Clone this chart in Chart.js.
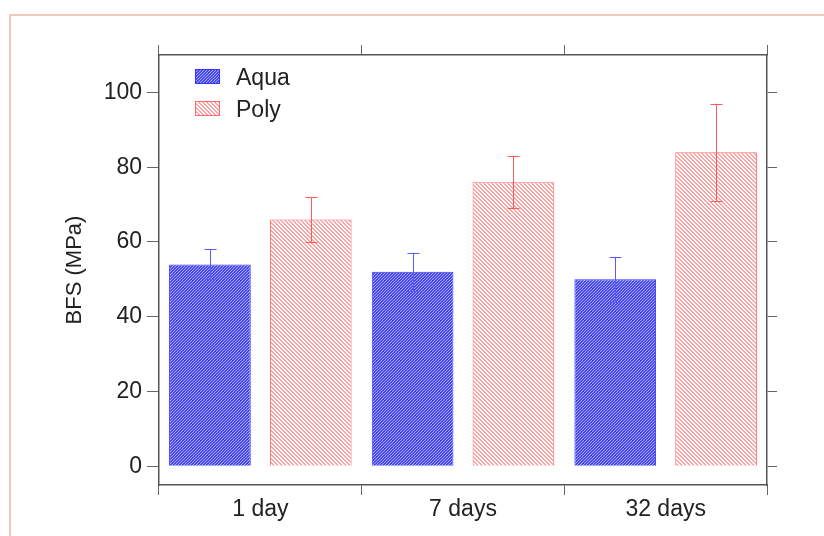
<!DOCTYPE html>
<html>
<head>
<meta charset="utf-8">
<script src="https://cdn.jsdelivr.net/npm/chart.js@4"></script>
<style>
  html, body { margin: 0; padding: 0; background: #fff; }
  #wrap { width: 824px; height: 536px; position: relative; }
</style>
</head>
<body>
<div id="wrap"><canvas id="c" width="824" height="536"></canvas></div>
<script>
// ---- data ----
const categories = ['1 day', '7 days', '32 days'];
const seriesNames = ['Aqua', 'Poly'];
const aquaValues = [54, 52, 50];
const aquaErrLow = [50, 47, 44];
const aquaErrHigh = [58, 57, 56];
const polyValues = [66, 76, 84];
const polyErrLow = [60, 69, 71];
const polyErrHigh = [72, 83, 97];
const yTickValues = [0, 20, 40, 60, 80, 100];
const yTitle = 'BFS (MPa)';

// ---- hatch patterns ----
function makePattern(size, bg, fg, test) {
  const c = document.createElement('canvas');
  c.width = size; c.height = size;
  const g = c.getContext('2d');
  g.fillStyle = bg; g.fillRect(0, 0, size, size);
  g.fillStyle = fg;
  for (let x = 0; x < size; x++) for (let y = 0; y < size; y++) {
    if (test(x, y)) g.fillRect(x, y, 1, 1);
  }
  return document.getElementById('c').getContext('2d').createPattern(c, 'repeat');
}
const aquaPattern = makePattern(3, '#4848f2', '#aaaaff', (x, y) => (x + y) % 3 === 0);
const polyPattern = makePattern(4, '#ffffff', '#ffa4a4', (x, y) => ((x - y + 8) % 4) < 2);

const errColors = ['#5a5aff', '#ff5a5a'];
const errLows = [aquaErrLow, polyErrLow];
const errHighs = [aquaErrHigh, polyErrHigh];
const patterns = [aquaPattern, polyPattern];
const borders = ['#3535ff', '#ff6a6a'];

const FONT = '"Liberation Sans", Arial, Helvetica, sans-serif';
const FS = 23;

const framePlugin = {
  id: 'frame',
  beforeDraw(chart) {
    const ctx = chart.ctx;
    ctx.save();
    ctx.strokeStyle = '#ecb6a6';
    ctx.lineWidth = 1.5;
    ctx.beginPath();
    ctx.moveTo(10, 536); ctx.lineTo(10, 15); ctx.lineTo(824, 15);
    ctx.stroke();
    ctx.restore();
  }
};

const errorBarPlugin = {
  id: 'errbars',
  afterDatasetsDraw(chart) {
    const ctx = chart.ctx;
    const ys = chart.scales.y;
    ctx.save();
    chart.data.datasets.forEach((ds, di) => {
      const meta = chart.getDatasetMeta(di);
      meta.data.forEach((bar, i) => {
        const x = Math.round(bar.x);
        const yl = ys.getPixelForValue(errLows[di][i]);
        const yh = ys.getPixelForValue(errHighs[di][i]);
        ctx.strokeStyle = errColors[di];
        ctx.lineWidth = 1;
        ctx.beginPath();
        ctx.moveTo(x + 0.5, yl); ctx.lineTo(x + 0.5, yh);
        ctx.moveTo(x - 5.5, Math.round(yh) + 0.5); ctx.lineTo(x + 6.5, Math.round(yh) + 0.5);
        ctx.moveTo(x - 5.5, Math.round(yl) + 0.5); ctx.lineTo(x + 6.5, Math.round(yl) + 0.5);
        ctx.stroke();
      });
    });
    ctx.restore();
  }
};

const legendPlugin = {
  id: 'customLegend',
  afterDraw(chart) {
    const ctx = chart.ctx;
    const a = chart.chartArea;
    ctx.save();
    seriesNames.forEach((name, i) => {
      const bx = a.left + 36, by = a.top + 14 + i * 32;
      ctx.fillStyle = patterns[i];
      ctx.fillRect(bx, by, 25, 15);
      ctx.strokeStyle = borders[i];
      ctx.lineWidth = 1;
      ctx.strokeRect(bx + 0.5, by + 0.5, 24, 14);
      ctx.fillStyle = '#222';
      ctx.font = FS + 'px ' + FONT;
      ctx.textBaseline = 'middle';
      ctx.textAlign = 'left';
      ctx.fillText(name, bx + 41, by + 10);
    });
    ctx.restore();
  }
};

const gridCommon = {
  display: true,
  drawOnChartArea: false,
  drawTicks: true,
  tickLength: 10,
  tickColor: '#666',
  color: '#666',
  lineWidth: 1
};
const borderCommon = { display: true, color: '#555', width: 1.5 };
const filterTicks = s => { s.ticks = yTickValues.map(v => ({ value: v })); };

new Chart(document.getElementById('c'), {
  type: 'bar',
  data: {
    labels: categories,
    datasets: [
      { label: seriesNames[0], data: aquaValues, backgroundColor: aquaPattern, borderColor: borders[0], borderWidth: 1 },
      { label: seriesNames[1], data: polyValues, backgroundColor: polyPattern, borderColor: borders[1], borderWidth: 1 }
    ]
  },
  options: {
    responsive: false,
    animation: false,
    devicePixelRatio: 1,
    layout: { padding: 0 },
    categoryPercentage: 0.995,
    barPercentage: 0.81,
    plugins: { legend: { display: false }, tooltip: { enabled: false } },
    scales: {
      x: {
        position: 'bottom',
        grid: { ...gridCommon, offset: true },
        border: borderCommon,
        ticks: { color: '#222', font: { family: FONT, size: FS }, padding: 1, maxRotation: 0 },
        afterFit: s => { s.height = 51; }
      },
      x2: {
        type: 'category',
        labels: categories,
        position: 'top',
        grid: { ...gridCommon, offset: true },
        border: borderCommon,
        ticks: { color: 'rgba(0,0,0,0)', font: { family: FONT, size: FS } },
        afterFit: s => { s.height = 55; }
      },
      y: {
        position: 'left',
        min: -5, max: 110,
        afterBuildTicks: filterTicks,
        grid: { ...gridCommon, tickLength: 12 },
        border: borderCommon,
        ticks: { color: '#222', font: { family: FONT, size: FS }, padding: 5 },
        title: { display: true, text: yTitle, color: '#222', font: { family: FONT, size: 22 }, padding: { top: 62, bottom: 0 } },
        afterFit: s => { s.width = 159; }
      },
      y2: {
        position: 'right',
        min: -5, max: 110,
        afterBuildTicks: filterTicks,
        grid: gridCommon,
        border: borderCommon,
        ticks: { color: 'rgba(0,0,0,0)', font: { family: FONT, size: FS } },
        afterFit: s => { s.width = 57; }
      }
    }
  },
  plugins: [framePlugin, errorBarPlugin, legendPlugin]
});
</script>
</body>
</html>
